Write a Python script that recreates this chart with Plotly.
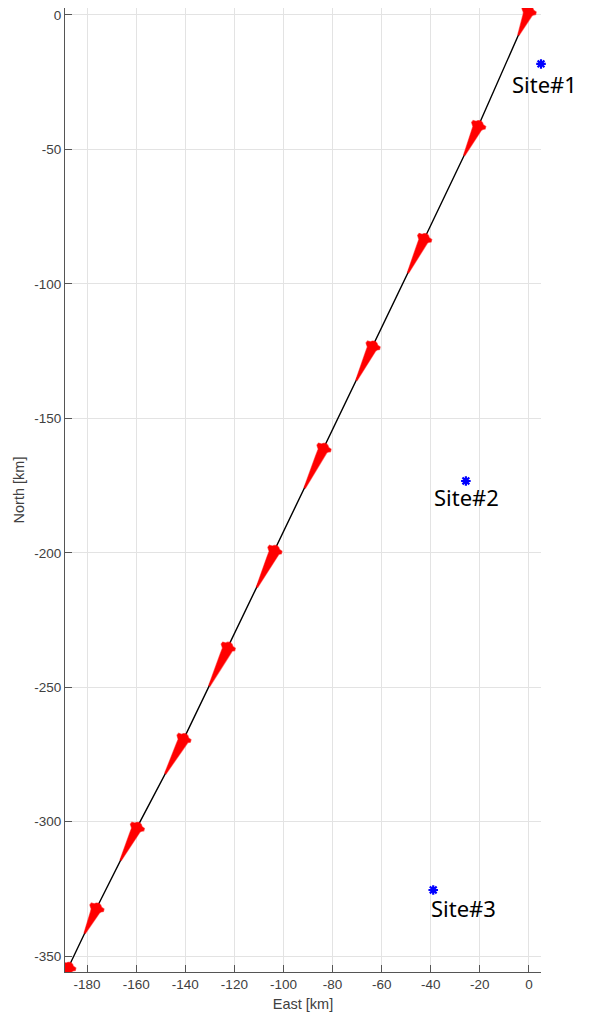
import numpy as np
import plotly.graph_objects as go

# ---- data ----
ship_east = [0.5, -20, -42, -63, -83, -103, -122, -140, -159, -175.5, -187]
ship_north = [2.5, -40, -82, -122, -160, -198, -234, -268, -301, -331, -353]
wake_km = [11, 13.7, 15.6, 15.6, 17.9, 16.7, 17.5, 16.3, 15.2, 11.8, 11.4]
track_end_east = -190
track_end_north = -359

site_names = ["Site#1", "Site#2", "Site#3"]
site_east = [4.9, -25.7, -39.0]
site_north = [-18.2, -173.3, -325.4]

x_ticks = list(range(-180, 1, 20))
y_ticks = list(range(-350, 1, 50))

# ---- layout geometry (page body has an 8px margin) ----
W, H = 587, 1014
ML, MR, MT, MB = 57, 54, 0, 50
x_range = [-189.0, 4.9]
y_range = [-355.9, 2.6]
sx = (W - ML - MR) / (x_range[1] - x_range[0])
sy = (H - MT - MB) / (y_range[1] - y_range[0])

track_e = ship_east + [track_end_east]
track_n = ship_north + [track_end_north]

fig = go.Figure()

fig.add_trace(go.Scatter(x=track_e, y=track_n, mode="lines",
                         line=dict(color="black", width=1.4),
                         hoverinfo="skip", showlegend=False))

# ship symbols (polygons built in pixel space around each ship position)
for i in range(len(ship_east)):
    hx, hy = ship_east[i], ship_north[i]
    if i < len(ship_east) - 1:
        bx, by = ship_east[i + 1], ship_north[i + 1]
    else:
        bx, by = track_end_east, track_end_north
    dxp, dyp = (hx - bx) * sx, (hy - by) * sy
    n = np.hypot(dxp, dyp)
    ux, uy = dxp / n, dyp / n
    vx, vy = -uy, ux
    dk = np.hypot(hx - bx, hy - by)
    L = wake_km[i] * n / dk
    half = [(1.0, 2.5), (-0.5, 4.0), (-1.0, 7.0), (-3.5, 7.5), (-5.0, 5.5),
            (-6.5, 4.6), (-0.3 * L, 4.0), (-0.65 * L, 2.3), (-L, 0.7)]
    shape = [(2.0, 0.0)] + half + [(a, -b) for a, b in reversed(half)] + [(2.0, 0.0)]
    px = [hx + (a * ux + b * vx) / sx for a, b in shape]
    py = [hy + (a * uy + b * vy) / sy for a, b in shape]
    fig.add_trace(go.Scatter(x=px, y=py, mode="lines", fill="toself",
                             fillcolor="red",
                             line=dict(color="rgba(255,0,0,0.55)", width=1.2),
                             hoverinfo="skip", showlegend=False))

fig.add_trace(go.Scatter(x=site_east, y=site_north, mode="markers",
                         marker=dict(symbol="asterisk-open", size=8, color="blue",
                                     line=dict(color="blue", width=2.2)),
                         cliponaxis=False, hoverinfo="skip", showlegend=False))

label_shift = [(3, -20), (1, -16), (30, -18)]
for name, e, nn, (xs, ys) in zip(site_names, site_east, site_north, label_shift):
    fig.add_annotation(x=e, y=nn, text=name, showarrow=False,
                       xshift=xs, yshift=ys, xanchor="center", yanchor="middle",
                       font=dict(family="Noto Sans, Open Sans, sans-serif",
                                 size=22, color="black"))

title_font = dict(family="Liberation Sans, Arial, sans-serif", size=14.5, color="#404040")
axis_common = dict(showgrid=True, gridcolor="#e3e3e3", gridwidth=1,
                   zeroline=False, showline=True, linecolor="#555555",
                   linewidth=1, ticks="inside", ticklen=7, tickcolor="#555555",
                   tickfont=dict(family="Liberation Sans, Arial, sans-serif",
                                 size=13.5, color="#404040"),
                   ticklabeloverflow="allow",
                   mirror=False)

fig.update_xaxes(range=x_range, tickvals=x_ticks, ticktext=[str(v) for v in x_ticks],
                 title=dict(text="East [km]", standoff=7, font=title_font),
                 automargin=False, **axis_common)
fig.update_yaxes(range=y_range, tickvals=y_ticks, ticktext=[str(v) for v in y_ticks],
                 title=dict(text="North [km]", standoff=6, font=title_font),
                 automargin=False, **axis_common)

fig.update_layout(width=W, height=H,
                  margin=dict(l=ML, r=MR, t=MT, b=MB, pad=0),
                  plot_bgcolor="white", paper_bgcolor="white",
                  showlegend=False)

fig.write_html("out.html")
